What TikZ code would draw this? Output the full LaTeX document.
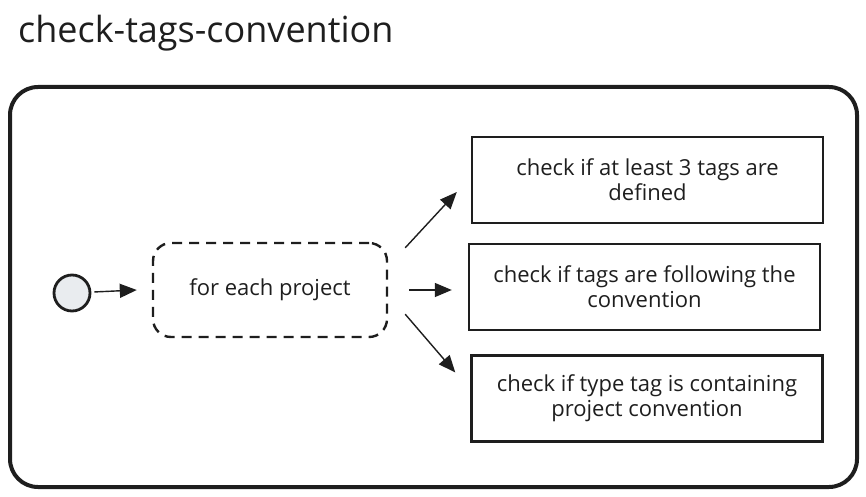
\documentclass[tikz,border=0pt]{standalone}
\usepackage{fontspec}
\setmainfont{Open Sans}
\usetikzlibrary{arrows.meta}
\definecolor{ink}{HTML}{1E1E1E}
\definecolor{dotfill}{HTML}{E9ECEF}
\tikzset{
    task/.style = {draw = ink, line width = 2.4pt, minimum width = 351pt, minimum height = 86pt,
        align = center, font = \fontsize{22}{25}\selectfont},
    flow/.style = {->, >={Triangle[length = 17pt, width = 14pt]}, line width = 1.4pt, draw = ink, fill = ink},
}
\begin{document}
\begin{tikzpicture}[x = 1pt, y = -1pt, text = ink]
    \useasboundingbox (0,0) rectangle (866,497);
    \node[anchor = base west, inner sep = 0pt, font = \fontsize{36}{40}\selectfont] (T) at (18,43) {check-tags-convention};
    \draw[ink, line width = 4pt, rounded corners = 28pt] (10,87) rectangle (857,487);

    \node[circle, draw = ink, fill = dotfill, line width = 2.8pt, minimum size = 36pt, inner sep = 0pt] (S) at (72,293) {};
    \node[draw = ink, line width = 2.4pt, dash pattern = on 10pt off 7pt, rounded corners = 18pt,
        minimum width = 234pt, minimum height = 94pt, font = \fontsize{22}{25}\selectfont] (P) at (270,290) {for each project};
    \node[task] (A) at (647.5,180) {check if at least 3 tags are\\defined};
    \node[task] (B) at (644.5,287) {check if tags are following the\\convention};
    \node[task] (C) at (647,398.5) {check if type tag is containing\\project convention};

    \draw[flow, shorten <= 3pt] (S) -- ([shift = {(-15,0)}]P.west);
    \draw[flow] ([shift = {(17,6)}]P.north east) -- ([shift = {(-14,12)}]A.west);
    \draw[flow] ([shift = {(21,0)}]P.east) -- ([shift = {(-16,3)}]B.west);
    \draw[flow] ([shift = {(17,-24)}]P.south east) -- ([shift = {(-15,-26)}]C.west);
\end{tikzpicture}
\end{document}
